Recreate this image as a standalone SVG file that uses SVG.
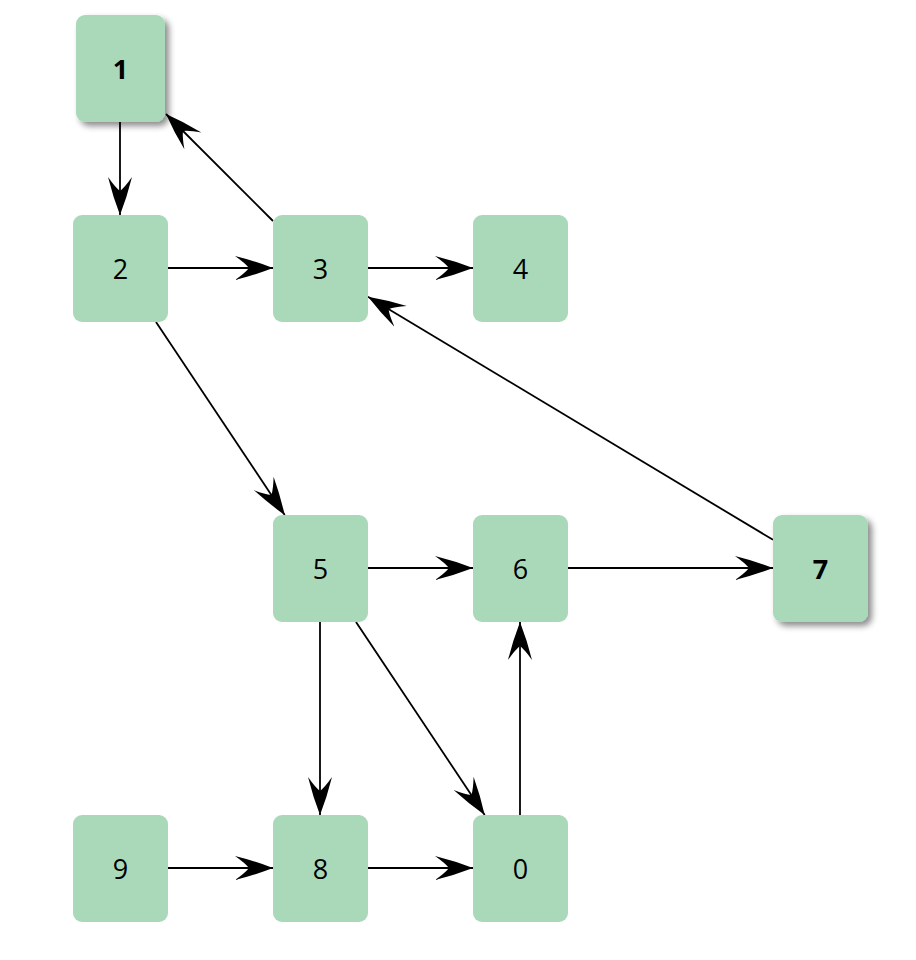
<svg xmlns="http://www.w3.org/2000/svg" width="916" height="960" viewBox="0 0 916 960">
<defs>
<style>
.node rect{fill:#a9d9b8;}
.node text{font-family:"Open Sans","Noto Sans","DejaVu Sans",sans-serif;font-size:27px;fill:#000;text-anchor:middle;dominant-baseline:central;}
.node.bold text{font-weight:bold;}
.edge{stroke:#000;stroke-width:1.8;fill:none;marker-end:url(#arr);}
</style>
<filter id="sh" x="-20%" y="-20%" width="150%" height="150%">
<feDropShadow dx="4" dy="4" stdDeviation="3" flood-color="#000" flood-opacity="0.45"/>
</filter>
<marker id="arr" markerUnits="userSpaceOnUse" markerWidth="40" markerHeight="26" viewBox="0 0 40 26" refX="38" refY="13" orient="auto">
<path d="M38,13 Q20,6 0,1 Q10,8 14,13 Q10,18 0,25 Q20,20 38,13 Z" fill="#000"/>
</marker>
</defs>
<g id="edges">
<line class="edge" x1="120" y1="122" x2="120" y2="215"/>
<line class="edge" x1="273" y1="221" x2="166" y2="114"/>
<line class="edge" x1="168" y1="268" x2="273" y2="268"/>
<line class="edge" x1="368" y1="268" x2="473" y2="268"/>
<line class="edge" x1="156" y1="322" x2="284.7" y2="515"/>
<line class="edge" x1="773" y1="539.8" x2="368" y2="296.8"/>
<line class="edge" x1="368" y1="568" x2="473" y2="568"/>
<line class="edge" x1="568" y1="568" x2="773" y2="568"/>
<line class="edge" x1="320" y1="622" x2="320" y2="815"/>
<line class="edge" x1="356" y1="622" x2="484.7" y2="815"/>
<line class="edge" x1="520" y1="815" x2="520" y2="622"/>
<line class="edge" x1="168" y1="868" x2="273" y2="868"/>
<line class="edge" x1="368" y1="868" x2="473" y2="868"/>
</g>
<g id="node1" class="node bold"><rect x="76" y="15" width="89" height="107" rx="9" filter="url(#sh)"/><text x="120.5" y="68.5">1</text></g>
<g id="node2" class="node"><rect x="73" y="215" width="95" height="107" rx="9"/><text x="120.5" y="268.5">2</text></g>
<g id="node3" class="node"><rect x="273" y="215" width="95" height="107" rx="9"/><text x="320.5" y="268.5">3</text></g>
<g id="node4" class="node"><rect x="473" y="215" width="95" height="107" rx="9"/><text x="520.5" y="268.5">4</text></g>
<g id="node5" class="node"><rect x="273" y="515" width="95" height="107" rx="9"/><text x="320.5" y="568.5">5</text></g>
<g id="node6" class="node"><rect x="473" y="515" width="95" height="107" rx="9"/><text x="520.5" y="568.5">6</text></g>
<g id="node7" class="node bold"><rect x="773" y="515" width="95" height="107" rx="9" filter="url(#sh)"/><text x="820.5" y="568.5">7</text></g>
<g id="node9" class="node"><rect x="73" y="815" width="95" height="107" rx="9"/><text x="120.5" y="868.5">9</text></g>
<g id="node8" class="node"><rect x="273" y="815" width="95" height="107" rx="9"/><text x="320.5" y="868.5">8</text></g>
<g id="node0" class="node"><rect x="473" y="815" width="95" height="107" rx="9"/><text x="520.5" y="868.5">0</text></g>
</svg>
